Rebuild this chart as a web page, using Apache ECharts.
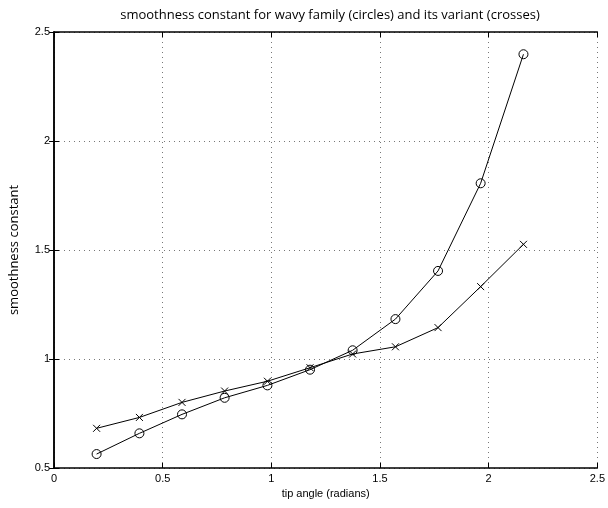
<!DOCTYPE html>
<html><head><meta charset="utf-8">
<script src="https://cdn.jsdelivr.net/npm/echarts@6/dist/echarts.min.js"></script>
<style>html,body{margin:0;padding:0;background:#fff}#c{width:608px;height:508px}</style>
</head><body><div id="c"></div>
<script>
var xValues = [0.196, 0.393, 0.589, 0.785, 0.982, 1.178, 1.374, 1.571, 1.767, 1.963, 2.160];
var circles = [0.564, 0.659, 0.746, 0.822, 0.879, 0.951, 1.040, 1.183, 1.404, 1.806, 2.398];
var crosses = [0.682, 0.732, 0.801, 0.853, 0.898, 0.960, 1.023, 1.056, 1.144, 1.332, 1.526];
var titleText = 'smoothness constant for wavy family (circles) and its variant (crosses)';
var xName = 'tip angle (radians)';
var yName = 'smoothness constant';

function pairs(xs, ys){ return xs.map(function(x,i){return [x, ys[i]];}); }
var chart = echarts.init(document.getElementById('c'));
var labelFont = {fontFamily:'Liberation Sans, Arial, sans-serif', fontSize:11, color:'#000'};
var axisLine = {show:true, lineStyle:{color:'#000', width:1.5}};
var tick = {show:true, inside:true, length:5, lineStyle:{color:'#000', width:1}};
chart.setOption({
  animation:false,
  title:{text:titleText, left:325, textAlign:'center', top:4,
    textStyle:{fontFamily:'Open Sans, sans-serif', fontSize:13, fontWeight:'normal', color:'#000'}},
  grid:{left:50, right:10, top:32, bottom:40},
  xAxis:[{type:'value', min:0, max:2.5, interval:0.5, position:'bottom',
    name:xName, nameLocation:'middle', nameGap:20,
    nameTextStyle:{fontFamily:'Liberation Sans, Arial, sans-serif', fontSize:11, color:'#000'},
    axisLine:axisLine, axisTick:tick,
    axisLabel:Object.assign({margin:5}, labelFont, {formatter:function(v){return String(v);}}),
    splitLine:{show:true, lineStyle:{color:'#777', type:[1,4], width:1}}},
    {type:'value', min:0, max:2.5, interval:0.5, position:'top',
    axisLine:axisLine, axisTick:tick, axisLabel:{show:false}, splitLine:{show:false}}],
  yAxis:[{type:'value', min:0.5, max:2.5, interval:0.5, position:'left',
    name:yName, nameLocation:'middle', nameGap:33, nameRotate:90,
    nameTextStyle:{fontFamily:'Open Sans, sans-serif', fontSize:13, color:'#000'},
    axisLine:axisLine, axisTick:tick,
    axisLabel:Object.assign({margin:4}, labelFont, {formatter:function(v){return String(v);}}),
    splitLine:{show:true, lineStyle:{color:'#777', type:[1,4], width:1}}},
    {type:'value', min:0.5, max:2.5, interval:0.5, position:'right',
    axisLine:axisLine, axisTick:tick, axisLabel:{show:false}, splitLine:{show:false}}],
  series:[
    {type:'line', data:pairs(xValues, circles), symbol:'circle', symbolSize:9,
     lineStyle:{color:'#000', width:1},
     itemStyle:{color:'rgba(0,0,0,0)', borderColor:'#000', borderWidth:1}},
    {type:'line', data:pairs(xValues, crosses), symbol:'path://M0,0L10,10M10,0L0,10', symbolSize:7,
     lineStyle:{color:'#000', width:1},
     itemStyle:{color:'#000', borderColor:'#000', borderWidth:1}}
  ]
});
</script></body></html>
